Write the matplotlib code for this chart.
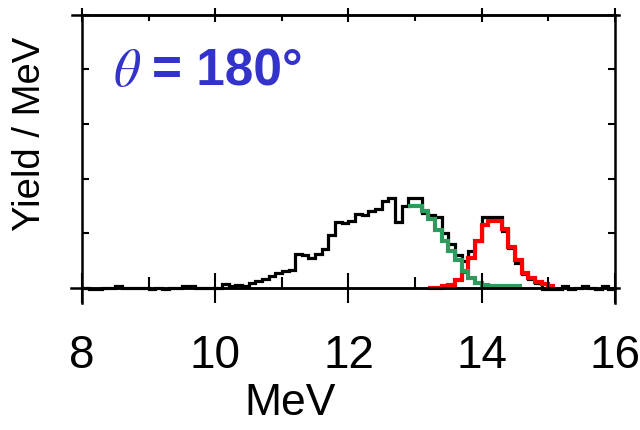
import matplotlib
matplotlib.use("Agg")
import matplotlib.pyplot as plt
import matplotlib.transforms as mtransforms
import numpy as np

plt.rcParams["font.family"] = ["Liberation Sans", "DejaVu Sans"]
plt.rcParams["mathtext.fontset"] = "stix"

# Spektrum in 0.1 MeV Bins
bin_width = 0.1
start_total = 8.0
start_broad = 12.9
start_peak = 13.2

# gemessenes Spektrum (schwarz)
yield_total = [
    0.0, -0.03, -0.02, 0.0, 0.0, 0.03, 0.0, 0.0, 0.0, 0.0,
    -0.03, 0.0, -0.03, 0.0, 0.0, 0.02, 0.03, 0.0, 0.0, 0.0,
    0.0, 0.06, 0.03, 0.05, 0.03, 0.08, 0.12, 0.16, 0.22, 0.26,
    0.30, 0.33, 0.62, 0.60, 0.55, 0.62, 0.70, 0.96, 1.20, 1.18,
    1.22, 1.35, 1.33, 1.40, 1.45, 1.58, 1.64, 1.20, 1.49, 1.64,
    1.64, 1.36, 1.34, 1.30, 1.00, 0.80, 0.60, 0.48, 0.68, 0.85,
    1.30, 1.30, 1.30, 1.03, 0.72, 0.45, 0.25, 0.15, 0.08, -0.02,
    -0.03, -0.02, 0.02, -0.03, 0.0, 0.03, 0.0, -0.03, 0.02, -0.03,
]

# breite Komponente (gruen)
yield_broad = [
    1.50, 1.49, 1.40, 1.25, 1.05, 0.85, 0.68, 0.50, 0.31, 0.18,
    0.08, 0.04, 0.03, 0.02, 0.02, 0.02, 0.02,
]

# Peak (rot)
yield_peak = [
    0.0, 0.0, 0.02, 0.04, 0.13, 0.29, 0.55, 0.85, 1.14, 1.23,
    1.22, 1.08, 0.75, 0.50, 0.26, 0.17, 0.10, 0.06, 0.02,
]


def edges(start, values):
    return start + bin_width * np.arange(len(values) + 1)


fig = plt.figure(figsize=(6.4, 4.31), dpi=100)
ax = fig.add_axes([0.128, 0.295, 0.833, 0.668])

ax.stairs(yield_total, edges(start_total, yield_total), baseline=None,
          color="black", linewidth=2.3)
ax.stairs(yield_peak, edges(start_peak, yield_peak), baseline=None,
          color="#ff0000", linewidth=3.0)
ax.stairs(yield_broad, edges(start_broad, yield_broad), baseline=None,
          color="#2e9a5e", linewidth=3.0)

ax.set_xlim(8, 16)
ax.set_ylim(-0.28, 5)

# Achsen
for side in ["left", "right", "top", "bottom"]:
    ax.spines[side].set_linewidth(1.8)
ax.spines["bottom"].set_position(("data", 0))
ax.spines["top"].set_visible(False)

ax.set_xticks([8, 10, 12, 14, 16])
ax.set_xticks([9, 11, 13, 15], minor=True)
ax.set_yticks([0, 1, 2, 3, 4, 5])
ax.tick_params(axis="x", which="major", direction="inout", length=21.5,
               width=1.5, labelsize=33, pad=22)
ax.tick_params(axis="x", which="minor", direction="in", length=8, width=1.5)
ax.tick_params(axis="y", direction="in", length=5, width=1.5, right=True,
               labelleft=False)

# obere Achse mit kuerzeren Ticks
top = ax.secondary_xaxis("top")
top.set_xticks([8, 10, 12, 14, 16])
top.set_xticks([9, 11, 13, 15], minor=True)
top.tick_params(which="major", direction="inout", length=9.5, width=1.5,
                labeltop=False)
top.tick_params(which="minor", direction="in", length=4.5, width=1.5)
top.spines["top"].set_linewidth(1.8)

# Nulllinie und obere Linie etwas ueber den Rahmen hinaus
trans = mtransforms.blended_transform_factory(ax.transAxes, ax.transData)
ax.plot([-0.02, 1.007], [0, 0], transform=trans, color="black",
        linewidth=1.8, clip_on=False)
ax.plot([-0.019, 1.008], [1, 1], transform=ax.transAxes, color="black",
        linewidth=1.8, clip_on=False)

ax.set_xlabel("MeV", fontsize=32, va="top")
ax.xaxis.set_label_coords(0.39, -0.275)
ax.set_ylabel("Yield / MeV", fontsize=27.5, va="center")
ax.yaxis.set_label_coords(-0.098, 0.59)

ax.text(0.058, 0.757, r"$\theta$", transform=ax.transAxes, fontsize=38,
        color="#3333cc", va="baseline", ha="left")
ax.text(0.131, 0.757, "= 180°", transform=ax.transAxes, fontsize=37,
        fontweight="bold", color="#3333cc", va="baseline", ha="left")

fig.savefig("out.png", dpi=100)
